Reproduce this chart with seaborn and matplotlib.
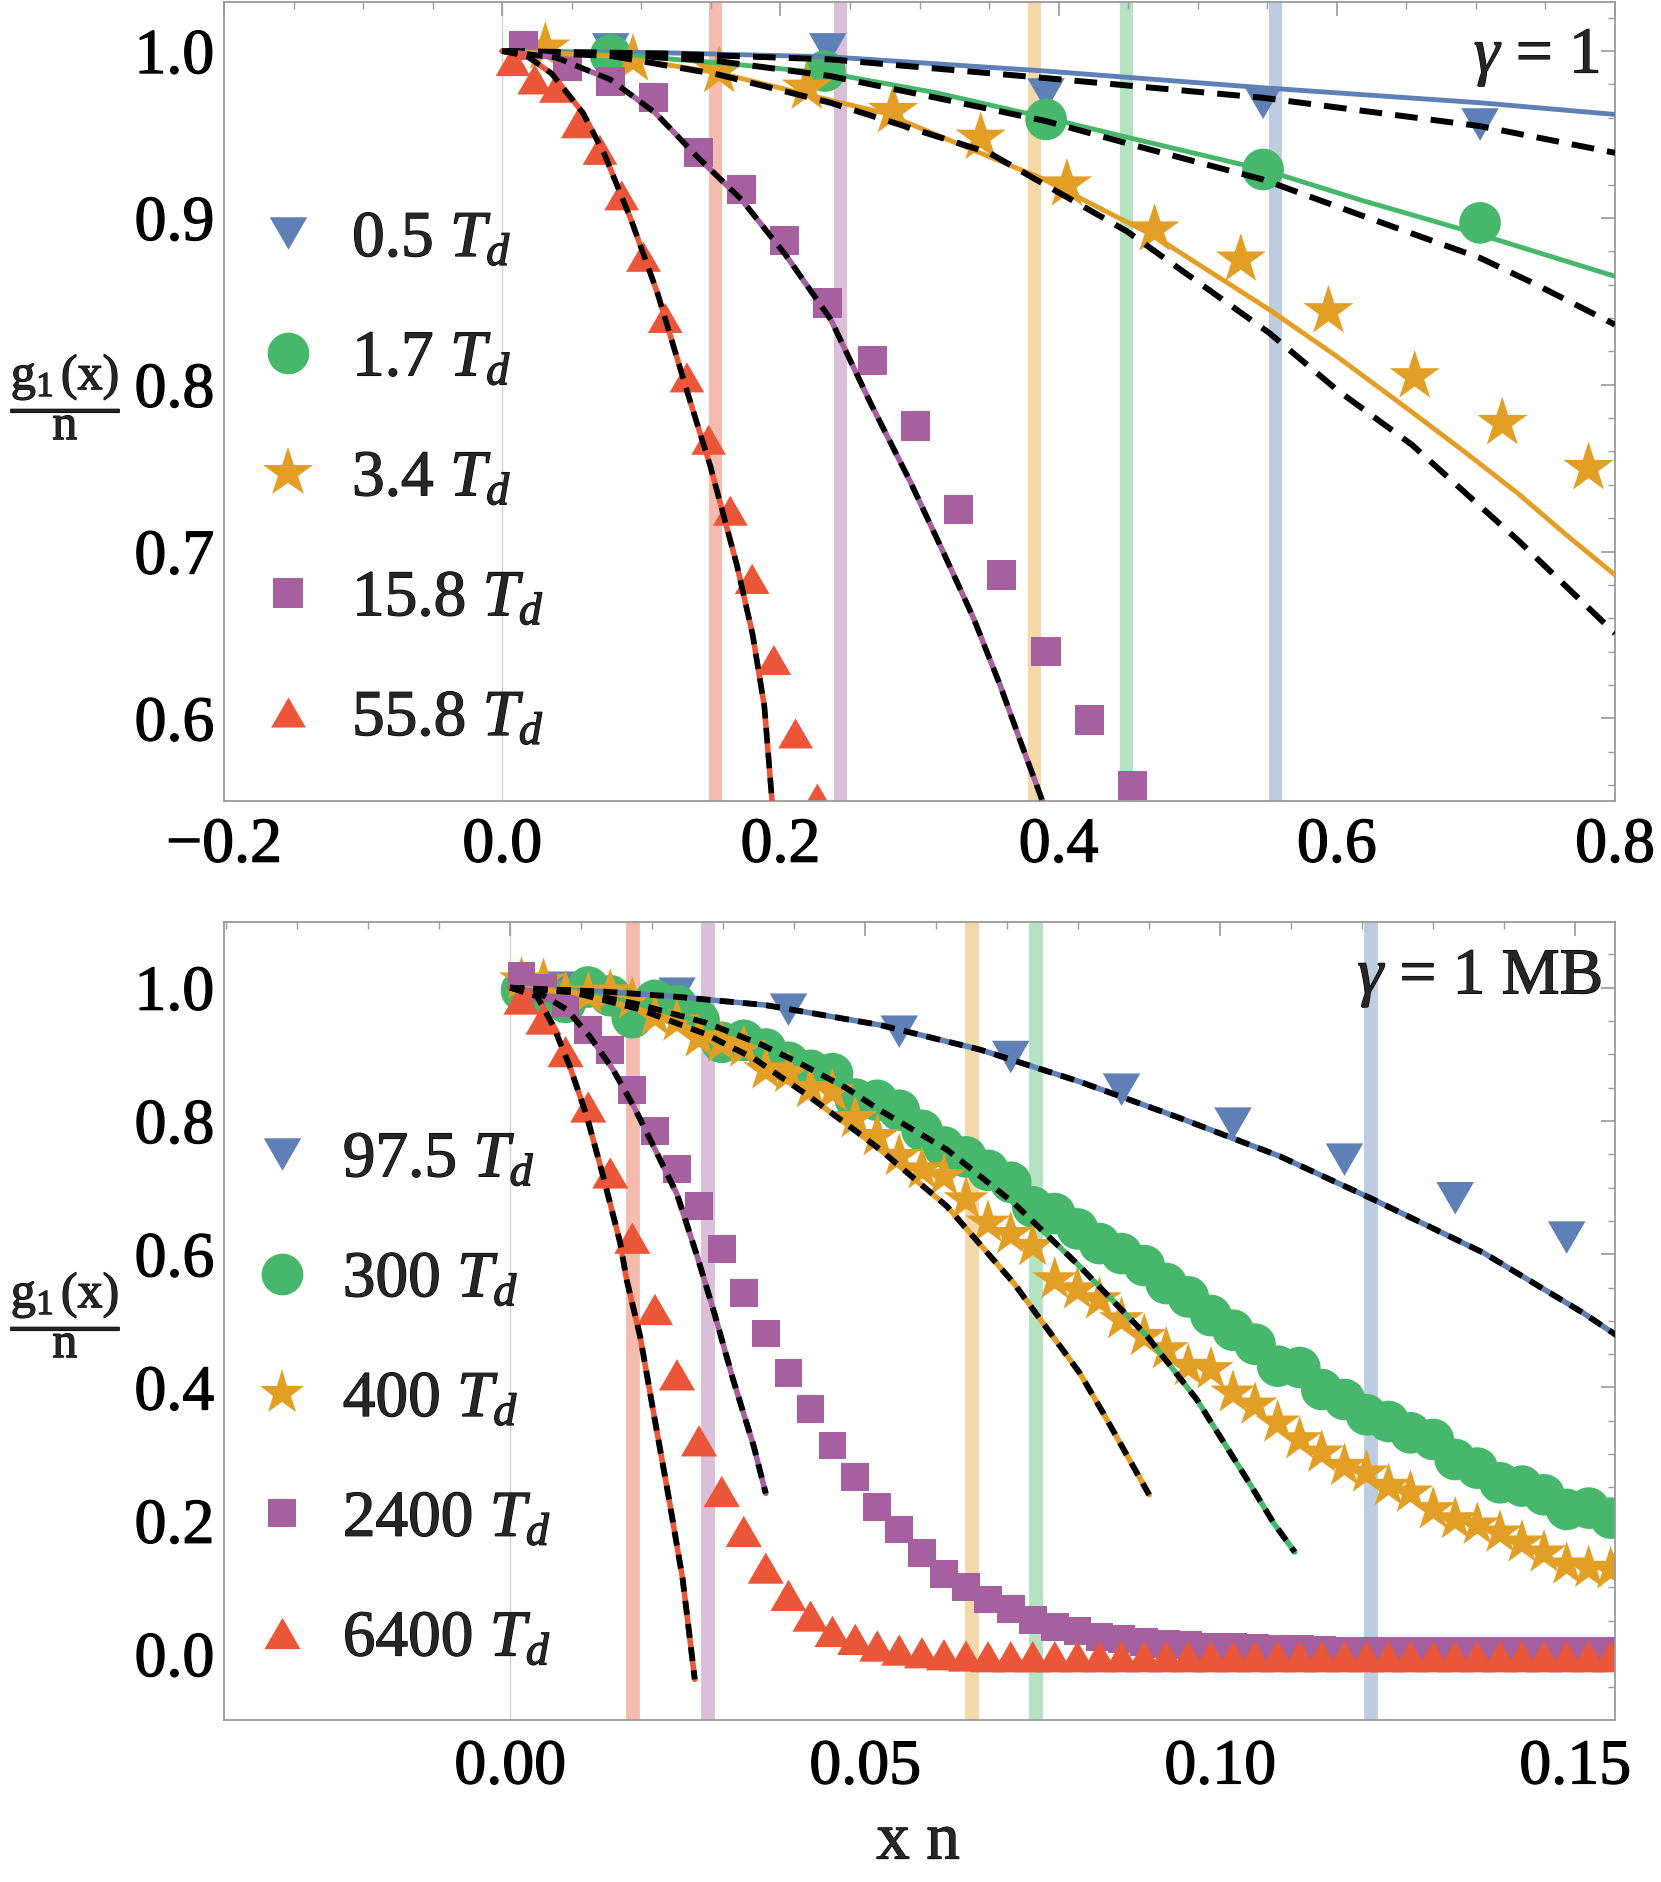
import matplotlib
matplotlib.use("Agg")
import matplotlib.pyplot as plt
import matplotlib.patheffects as pe
import seaborn as sns
from matplotlib.lines import Line2D
from matplotlib.ticker import MultipleLocator, FuncFormatter

# ---- colours (Mathematica-like palette) ----
BLUE = "#5E80B6"
GREEN = "#47B76B"
ORANGE = "#E39E26"
PURPLE = "#A6609F"
RED = "#EA5637"

# ================= top panel: gamma = 1 =================
top_labels = ["0.5", "1.7", "3.4", "15.8", "55.8"]

top_blue_x = [0.078, 0.234, 0.391, 0.547, 0.703]
top_blue_y = [1.001, 1.001, 0.974, 0.969, 0.956]
top_green_x = [0.078, 0.232, 0.391, 0.547, 0.703]
top_green_y = [0.9975, 0.988, 0.959, 0.929, 0.897]
top_orange_x = [0.031, 0.094, 0.156, 0.219, 0.281, 0.344, 0.406, 0.469, 0.531,
                0.594, 0.656, 0.719, 0.781]
top_orange_y = [1.002, 0.995, 0.988, 0.978, 0.964, 0.948, 0.920, 0.893, 0.875,
                0.844, 0.805, 0.777, 0.750]
top_purple_x = [0.0156, 0.047, 0.078, 0.109, 0.141, 0.172, 0.203, 0.234, 0.266,
                0.297, 0.328, 0.359, 0.391, 0.422, 0.453]
top_purple_y = [1.0035, 0.991, 0.9816, 0.972, 0.939, 0.917, 0.8865, 0.849, 0.8144,
                0.7753, 0.725, 0.686, 0.640, 0.599, 0.560]
top_red_x = [0.0078, 0.0234, 0.039, 0.0547, 0.0703, 0.0859, 0.1016, 0.1172, 0.1328,
             0.1484, 0.164, 0.1797, 0.1953, 0.2109, 0.2266]
top_red_y = [0.994, 0.983, 0.978, 0.9567, 0.9408, 0.9135, 0.8767, 0.840, 0.8044,
             0.767, 0.7245, 0.6836, 0.635, 0.591, 0.552]

# model curves (solid = coloured, dashed = black)
top_blue_solid_x = [0, 0.115, 0.236, 0.391, 0.547, 0.703, 0.8]
top_blue_solid_y = [1.0, 0.999, 0.9965, 0.988, 0.978, 0.969, 0.962]
top_blue_dash_x = [0, 0.115, 0.236, 0.388, 0.547, 0.703, 0.8]
top_blue_dash_y = [1.0, 0.9985, 0.995, 0.984, 0.972, 0.955, 0.939]
top_green_solid_x = [0, 0.079, 0.155, 0.236, 0.312, 0.391, 0.461, 0.547, 0.616, 0.703, 0.8]
top_green_solid_y = [1.0, 0.998, 0.993, 0.9865, 0.975, 0.960, 0.946, 0.929, 0.911, 0.890, 0.865]
top_green_dash_x = [0, 0.079, 0.155, 0.236, 0.312, 0.391, 0.461, 0.547, 0.616, 0.703, 0.741, 0.8]
top_green_dash_y = [1.0, 0.998, 0.994, 0.985, 0.972, 0.958, 0.942, 0.923, 0.902, 0.876, 0.861, 0.836]
top_orange_solid_x = [0, 0.079, 0.155, 0.236, 0.274, 0.388, 0.469, 0.5515, 0.600, 0.647,
                      0.690, 0.730, 0.765, 0.8]
top_orange_solid_y = [1.0, 0.997, 0.987, 0.9705, 0.963, 0.9236, 0.889, 0.845, 0.817, 0.788,
                      0.761, 0.735, 0.710, 0.686]
top_orange_dash_x = [0, 0.079, 0.155, 0.236, 0.350, 0.449, 0.5515, 0.600, 0.654, 0.690,
                     0.730, 0.765, 0.8]
top_orange_dash_y = [1.0, 0.997, 0.986, 0.969, 0.939, 0.892, 0.831, 0.797, 0.764, 0.737,
                     0.707, 0.679, 0.651]
top_purple_line_x = [0, 0.039, 0.0776, 0.110, 0.141, 0.172, 0.2036, 0.2363, 0.2648,
                     0.2933, 0.318, 0.3389, 0.3579, 0.3731, 0.3884]
top_purple_line_y = [1.0, 0.996, 0.983, 0.963, 0.936, 0.911, 0.878, 0.839, 0.789,
                     0.742, 0.698, 0.660, 0.620, 0.585, 0.5505]
top_red_line_x = [0, 0.0178, 0.0356, 0.058, 0.0736, 0.0926, 0.1116, 0.1344, 0.1497,
                  0.1687, 0.1801, 0.1885, 0.1940]
top_red_line_y = [1.0, 0.997, 0.9865, 0.963, 0.938, 0.899, 0.855, 0.792, 0.751,
                  0.692, 0.650, 0.607, 0.5505]

top_bands = [0.1527, 0.2431, 0.3826, 0.4484, 0.5556]

# ================= bottom panel: gamma = 1 MB =================
bot_labels = ["97.5", "300", "400", "2400", "6400"]

dense_x = [0.0016, 0.0047, 0.0078, 0.0110, 0.0141, 0.0172, 0.0204, 0.0235, 0.0266, 0.0298,
           0.0329, 0.0360, 0.0392, 0.0423, 0.0454, 0.0486, 0.0517, 0.0548, 0.0580, 0.0611,
           0.0642, 0.0673, 0.0705, 0.0736, 0.0767, 0.0799, 0.0830, 0.0861, 0.0893, 0.0924,
           0.0955, 0.0987, 0.1018, 0.1049, 0.1081, 0.1112, 0.1143, 0.1175, 0.1206, 0.1237,
           0.1268, 0.1300, 0.1331, 0.1362, 0.1394, 0.1425, 0.1456, 0.1488, 0.1519, 0.1550]

bot_blue_x = [0.0078, 0.0235, 0.0392, 0.0548, 0.0705, 0.0861, 0.1018, 0.1175, 0.1331, 0.1488]
bot_blue_y = [1.000, 0.991, 0.967, 0.934, 0.896, 0.847, 0.796, 0.742, 0.684, 0.625]

bot_green_y = [0.996, 0.990, 0.978, 1.001, 0.988, 0.955, 0.981, 0.973, 0.951, 0.918,
               0.921, 0.908, 0.888, 0.876, 0.871, 0.833, 0.831, 0.816, 0.786, 0.761,
               0.746, 0.726, 0.708, 0.671, 0.661, 0.638, 0.616, 0.601, 0.583, 0.556,
               0.536, 0.508, 0.486, 0.465, 0.432, 0.430, 0.397, 0.382, 0.359, 0.349,
               0.332, 0.322, 0.292, 0.279, 0.257, 0.252, 0.239, 0.217, 0.219, 0.204]
bot_orange_y = [1.012, 1.010, 0.992, 0.990, 0.994, 0.982, 0.957, 0.949, 0.925, 0.917,
                0.910, 0.877, 0.872, 0.849, 0.844, 0.804, 0.777, 0.747, 0.727, 0.717,
                0.682, 0.647, 0.630, 0.612, 0.562, 0.547, 0.532, 0.502, 0.477, 0.457,
                0.432, 0.427, 0.392, 0.374, 0.347, 0.322, 0.302, 0.282, 0.272, 0.252,
                0.242, 0.217, 0.202, 0.194, 0.182, 0.167, 0.152, 0.134, 0.129, 0.127]
bot_purple_y = [1.017, 1.000, 0.977, 0.937, 0.906, 0.847, 0.785, 0.728, 0.672, 0.608,
                0.542, 0.481, 0.422, 0.368, 0.313, 0.266, 0.221, 0.187, 0.152, 0.120,
                0.101, 0.082, 0.068, 0.051, 0.041, 0.034, 0.026, 0.022, 0.018, 0.015,
                0.013, 0.011, 0.010, 0.009, 0.008, 0.007, 0.006, 0.005, 0.005, 0.005,
                0.005, 0.005, 0.005, 0.005, 0.005, 0.005, 0.005, 0.005, 0.005, 0.005]
bot_red_y = [0.983, 0.953, 0.904, 0.821, 0.722, 0.624, 0.517, 0.419, 0.320, 0.244,
             0.184, 0.129, 0.088, 0.057, 0.034, 0.022, 0.012, 0.006, 0.002, -0.001,
             -0.003, -0.004, -0.004, -0.004, -0.004, -0.004, -0.004, -0.004, -0.004, -0.004,
             -0.004, -0.004, -0.004, -0.004, -0.004, -0.004, -0.004, -0.004, -0.004, -0.004,
             -0.004, -0.004, -0.004, -0.004, -0.004, -0.004, -0.004, -0.004, -0.004, -0.004]

bot_blue_line_x = [0, 0.0134, 0.0228, 0.0359, 0.0521, 0.0662, 0.0802, 0.0943, 0.1084,
                   0.1216, 0.1371, 0.1511, 0.1560]
bot_blue_line_y = [1.0, 0.994, 0.987, 0.974, 0.944, 0.907, 0.859, 0.8045, 0.747,
                   0.682, 0.602, 0.512, 0.477]
bot_green_line_x = [0, 0.0089, 0.0181, 0.0277, 0.0353, 0.0409, 0.0474, 0.0521, 0.0615,
                    0.0709, 0.0802, 0.0897, 0.0967, 0.1042, 0.1075, 0.1105]
bot_green_line_y = [1.0, 0.995, 0.975, 0.947, 0.915, 0.886, 0.849, 0.816, 0.757,
                    0.677, 0.582, 0.477, 0.382, 0.255, 0.197, 0.153]
bot_orange_line_x = [0, 0.0089, 0.0181, 0.0274, 0.0343, 0.0417, 0.0488, 0.0521, 0.0615,
                     0.0709, 0.0802, 0.0835, 0.0900]
bot_orange_line_y = [1.0, 0.993, 0.968, 0.931, 0.894, 0.840, 0.784, 0.757, 0.672,
                     0.557, 0.422, 0.362, 0.239]
bot_purple_line_x = [0, 0.0038, 0.008, 0.0112, 0.0145, 0.0174, 0.0202, 0.0235, 0.0264,
                     0.0288, 0.0314, 0.0343, 0.0360]
bot_purple_line_y = [1.0, 0.994, 0.967, 0.927, 0.877, 0.822, 0.762, 0.69, 0.595,
                     0.51, 0.412, 0.312, 0.241]
bot_red_line_x = [0, 0.0038, 0.0061, 0.0084, 0.0108, 0.0131, 0.0155, 0.0164, 0.0183,
                  0.0202, 0.0223, 0.0243, 0.0260]
bot_red_line_y = [1.0, 0.987, 0.942, 0.882, 0.807, 0.717, 0.617, 0.562, 0.477,
                  0.362, 0.237, 0.112, -0.038]

bot_bands = [0.0173, 0.0279, 0.0650, 0.0741, 0.1212]

COLORS = [BLUE, GREEN, ORANGE, PURPLE, RED]
BAND_COLORS = [RED, PURPLE, ORANGE, GREEN, BLUE]

# equilateral triangles, centred on their bounding box
TRI_UP = [(0, 0.433), (-0.5, -0.433), (0.5, -0.433)]
TRI_DOWN = [(0, -0.433), (-0.5, 0.433), (0.5, 0.433)]
MARKERS = [TRI_DOWN, "o", "*", "s", TRI_UP]

FS = 46          # tick labels
FS_LEG = 47      # legend labels
GRAY = "#9a9a9a"
BOLDEN = [pe.withStroke(linewidth=0.9, foreground="black")]

sns.set_theme(style="white")
plt.rcParams["font.family"] = ["Liberation Serif", "DejaVu Serif"]
plt.rcParams["mathtext.fontset"] = "custom"
plt.rcParams["mathtext.rm"] = "Liberation Serif"
plt.rcParams["mathtext.it"] = "Liberation Serif:italic"
plt.rcParams["mathtext.bf"] = "Liberation Serif:bold"


def num_fmt(decimals):
    def f(v, _):
        if abs(v) < 1e-9:
            v = 0.0
        return f"{v:.{decimals}f}".replace("-", "\u2212")
    return FuncFormatter(f)


def style_axes(ax, xmaj, xmin, ymaj, ymin, xdec, ydec, xpad):
    for sp in ax.spines.values():
        sp.set_color(GRAY)
        sp.set_linewidth(1.3)
    ax.xaxis.set_major_locator(MultipleLocator(xmaj))
    ax.xaxis.set_minor_locator(MultipleLocator(xmin))
    ax.yaxis.set_major_locator(MultipleLocator(ymaj))
    ax.yaxis.set_minor_locator(MultipleLocator(ymin))
    ax.xaxis.set_major_formatter(num_fmt(xdec))
    ax.yaxis.set_major_formatter(num_fmt(ydec))
    ax.tick_params(which="both", direction="in", top=True, right=True,
                   color=GRAY, labelsize=FS, labelcolor="black")
    ax.tick_params(which="major", length=10, width=1.2)
    ax.tick_params(which="minor", length=5, width=1.0)
    ax.tick_params(axis="x", which="major", pad=xpad)
    ax.tick_params(axis="y", which="major", pad=7)
    ax.axvline(0, color="#d0d0d0", lw=1.0, zorder=0.4)
    for lab in ax.get_xticklabels() + ax.get_yticklabels():
        lab.set_path_effects(BOLDEN)


def draw_points(ax, x, y, color, marker, size):
    sns.scatterplot(x=x, y=y, ax=ax, color=color, marker=marker, s=size ** 2,
                    edgecolor="none", linewidth=0, zorder=2, legend=False)


def draw_line(ax, x, y, color, lw, ls="-", z=3):
    sns.lineplot(x=x, y=y, ax=ax, color=color, lw=lw, linestyle=ls,
                 estimator=None, sort=False, zorder=z, legend=False)


def add_legend(ax, labels, sizes, x0, yc, pad, spacing):
    handles = [Line2D([], [], ls="none", marker=m, color=c, markersize=s,
                      markeredgewidth=0)
               for m, c, s in zip(MARKERS, COLORS, sizes)]
    texts = [f"{lab} $T_d$" for lab in labels]
    leg = ax.legend(handles, texts, loc="center left", bbox_to_anchor=(x0, yc),
                    frameon=False, fontsize=FS_LEG, handlelength=1.0,
                    handletextpad=pad, labelspacing=spacing, borderpad=0,
                    borderaxespad=0)
    for t in leg.get_texts():
        t.set_path_effects(BOLDEN)


fig = plt.figure(figsize=(16.61, 18.82), dpi=100)
ax1 = fig.add_axes([224 / 1661, 1 - 801 / 1882, 1391 / 1661, 799 / 1882])
ax2 = fig.add_axes([224 / 1661, 1 - 1720 / 1882, 1391 / 1661, 798 / 1882])

# ---------------- top panel ----------------
for xb, c in zip(top_bands, BAND_COLORS):
    ax1.axvline(xb, color=c, alpha=0.4, lw=9.5, zorder=0.5)

top_sizes = [27, 30, 38, 21, 25]
top_pts = [(top_blue_x, top_blue_y), (top_green_x, top_green_y),
           (top_orange_x, top_orange_y), (top_purple_x, top_purple_y),
           (top_red_x, top_red_y)]
for (px, py), c, m, s in zip(top_pts, COLORS, MARKERS, top_sizes):
    draw_points(ax1, px, py, c, m, s)

LONG_DASH = (0, (3.8, 2.2))
SHORT_DASH = (0, (2.8, 1.7))
draw_line(ax1, top_blue_solid_x, top_blue_solid_y, BLUE, 3.5)
draw_line(ax1, top_blue_dash_x, top_blue_dash_y, "black", 4.3, LONG_DASH)
draw_line(ax1, top_green_solid_x, top_green_solid_y, GREEN, 3.5)
draw_line(ax1, top_green_dash_x, top_green_dash_y, "black", 4.3, LONG_DASH)
draw_line(ax1, top_orange_solid_x, top_orange_solid_y, ORANGE, 3.5)
draw_line(ax1, top_orange_dash_x, top_orange_dash_y, "black", 4.3, LONG_DASH)
draw_line(ax1, top_purple_line_x, top_purple_line_y, PURPLE, 4.0)
draw_line(ax1, top_purple_line_x, top_purple_line_y, "black", 4.0, SHORT_DASH, 3.1)
draw_line(ax1, top_red_line_x, top_red_line_y, RED, 4.0)
draw_line(ax1, top_red_line_x, top_red_line_y, "black", 4.0, SHORT_DASH, 3.1)

ax1.set_xlim(-0.2, 0.8)
ax1.set_ylim(0.5505, 1.0294)
style_axes(ax1, 0.2, 0.05, 0.1, 0.02, 1, 1, 12)
ax1.set_xlabel("")
ax1.set_ylabel("")
ax1.text(0.989, 0.911, r"$\gamma$ = 1", transform=ax1.transAxes,
         ha="right", va="baseline", fontsize=FS_LEG, path_effects=BOLDEN)
add_legend(ax1, top_labels, top_sizes, 0.0226, 0.4018, 0.48, 0.92)

# ---------------- bottom panel ----------------
for xb, c in zip(bot_bands, BAND_COLORS):
    ax2.axvline(xb, color=c, alpha=0.4, lw=10, zorder=0.5)

bot_sizes = [27, 30, 34, 20, 26]
bot_pts = [(bot_blue_x, bot_blue_y), (dense_x, bot_green_y), (dense_x, bot_orange_y),
           (dense_x, bot_purple_y), (dense_x, bot_red_y)]
for (px, py), c, m, s in zip(bot_pts, COLORS, MARKERS, bot_sizes):
    draw_points(ax2, px, py, c, m, s)

BOT_DASH = (0, (2.4, 1.6))
bot_lines = [(bot_blue_line_x, bot_blue_line_y), (bot_green_line_x, bot_green_line_y),
             (bot_orange_line_x, bot_orange_line_y), (bot_purple_line_x, bot_purple_line_y),
             (bot_red_line_x, bot_red_line_y)]
for (lx, ly), c in zip(bot_lines, COLORS):
    draw_line(ax2, lx, ly, c, 4.0)
    draw_line(ax2, lx, ly, "black", 4.2, BOT_DASH, 3.1)

ax2.set_xlim(-0.0403, 0.1556)
ax2.set_ylim(-0.099, 1.0986)
style_axes(ax2, 0.05, 0.01, 0.2, 0.05, 2, 1, 14)
ax2.set_xlabel("")
ax2.set_ylabel("")
ax2.text(0.9906, 0.9098, r"$\gamma$ = 1 MB", transform=ax2.transAxes,
         ha="right", va="baseline", fontsize=FS_LEG, path_effects=BOLDEN)
add_legend(ax2, bot_labels, bot_sizes, 0.0183, 0.4004, 0.43, 0.92)

# axis titles
frac = r"$\dfrac{\mathrm{g}_1\,\mathrm{(x)}}{\mathrm{n}}$"
fig.text(66 / 1661, 1 - 396 / 1882, frac, ha="center", va="center", fontsize=36,
         path_effects=BOLDEN)
fig.text(66 / 1661, 1 - 1314 / 1882, frac, ha="center", va="center", fontsize=36,
         path_effects=BOLDEN)
fig.text(918 / 1661, 1 - 1842 / 1882, "x n", ha="center", va="center", fontsize=48,
         path_effects=BOLDEN)

fig.savefig("out.png", dpi=100)
plt.close(fig)
